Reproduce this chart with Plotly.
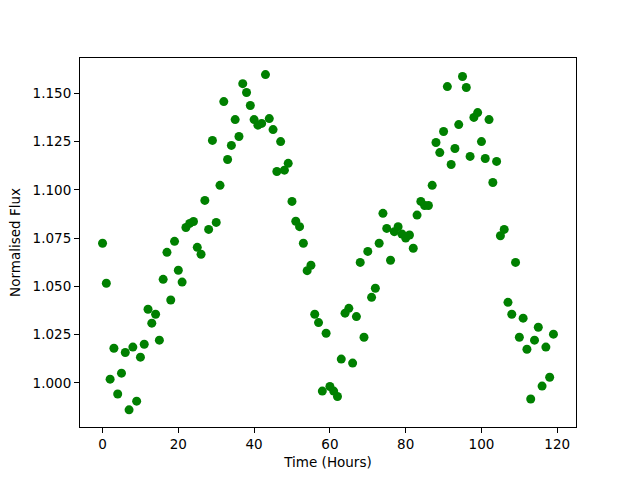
import plotly.graph_objects as go

time_hours = list(range(120))
flux = [
    1.0723, 1.0516, 1.0019, 1.0179, 0.9942, 1.0050, 1.0157, 0.9860, 1.0185, 0.9905,
    1.0133, 1.0200, 1.0381, 1.0309, 1.0355, 1.0221, 1.0536, 1.0676, 1.0429, 1.0733,
    1.0583, 1.0522, 1.0805, 1.0826, 1.0836, 1.0702, 1.0666, 1.0945, 1.0795, 1.1256,
    1.0831, 1.1023, 1.1457, 1.1157, 1.1230, 1.1364, 1.1276, 1.1550, 1.1504, 1.1437,
    1.1364, 1.1335, 1.1344, 1.1597, 1.1369, 1.1312, 1.1095, 1.1250, 1.1102, 1.1137,
    1.0940, 1.0837, 1.0809, 1.0723, 1.0581, 1.0609, 1.0355, 1.0312, 0.9957, 1.0257,
    0.9981, 0.9957, 0.9929, 1.0123, 1.0361, 1.0386, 1.0102, 1.0343, 1.0624, 1.0236,
    1.0681, 1.0443, 1.0490, 1.0723, 1.0878, 1.0800, 1.0635, 1.0783, 1.0809, 1.0771,
    1.0750, 1.0766, 1.0697, 1.0869, 1.0940, 1.0919, 1.0919, 1.1023, 1.1245, 1.1193,
    1.1302, 1.1535, 1.1131, 1.1214, 1.1338, 1.1587, 1.1530, 1.1173, 1.1375, 1.1400,
    1.1250, 1.1162, 1.1364, 1.1038, 1.1147, 1.0762, 1.0795, 1.0417, 1.0355, 1.0624,
    1.0236, 1.0335, 1.0174, 0.9916, 1.0221, 1.0288, 0.9983, 1.0185, 1.0029, 1.0252,
]
x_ticks = [0, 20, 40, 60, 80, 100, 120]
y_ticks = [1.000, 1.025, 1.050, 1.075, 1.100, 1.125, 1.150]

fig = go.Figure(go.Scatter(
    x=time_hours, y=flux, mode="markers",
    marker=dict(color="#008000", size=9, line=dict(width=0)),
))

font = dict(family="DejaVu Sans", size=13.5, color="black")
axis_common = dict(
    showline=True, linecolor="black", linewidth=1.1, mirror=True,
    ticks="outside", ticklen=5, tickwidth=1.1, tickcolor="black",
    showgrid=False, zeroline=False, tickfont=font,
)
fig.update_layout(
    width=640, height=480,
    margin=dict(l=80, r=64, t=58, b=53),
    paper_bgcolor="white", plot_bgcolor="white",
    showlegend=False, font=font,
    xaxis=dict(range=[-5.95, 124.95], tickvals=x_ticks,
               title=dict(text="Time (Hours)", font=font, standoff=6), **axis_common),
    yaxis=dict(range=[0.9771, 1.1683], tickvals=y_ticks, tickformat=".3f",
               title=dict(text="Normalised Flux", font=font, standoff=8), **axis_common),
)
fig.write_html("out.html", config={"displayModeBar": False},
               post_script="document.body.style.margin='0';")
